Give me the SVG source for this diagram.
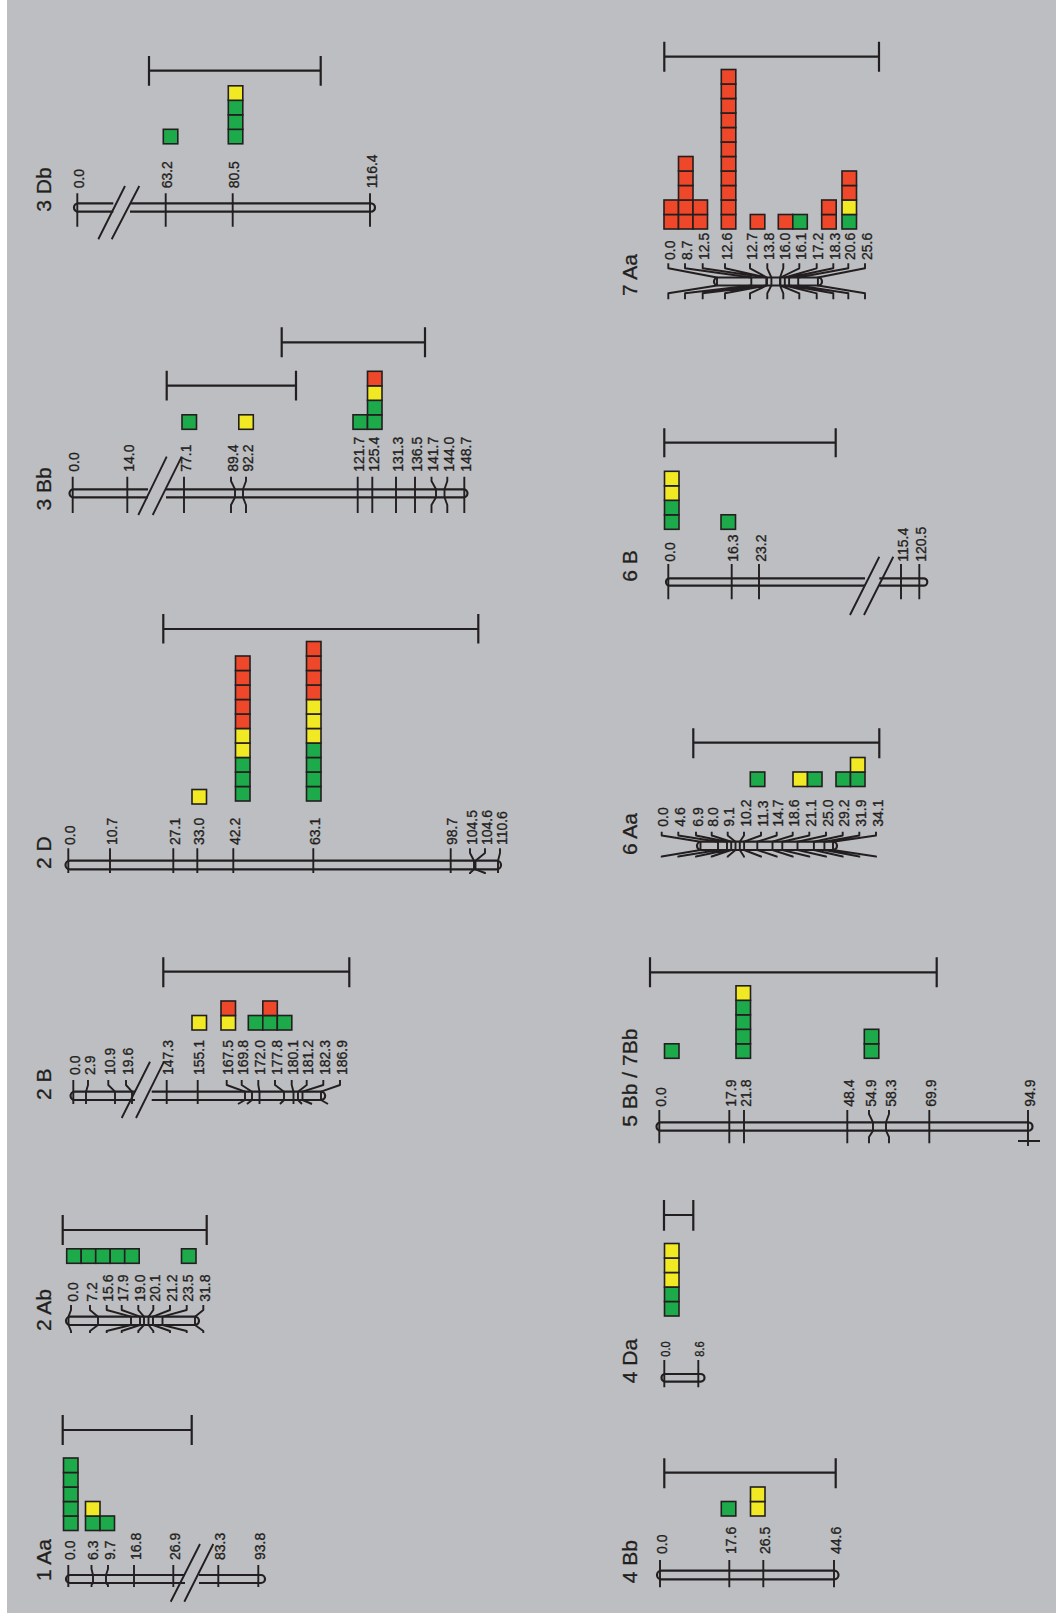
<svg xmlns="http://www.w3.org/2000/svg" width="1056" height="1613" viewBox="0 0 1056 1613">
<style>
.chr{fill:none;stroke:#231F20;stroke-width:2.2}
.tk{fill:none;stroke:#231F20;stroke-width:1.9;stroke-linejoin:round}
.bar{fill:none;stroke:#231F20;stroke-width:2.2}
.l{font-family:"Liberation Sans",Arial,sans-serif;font-size:15.5px;fill:#231F20;stroke:#231F20;stroke-width:0.35}
.s{font-size:13px}
.n{font-family:"Liberation Sans",Arial,sans-serif;font-size:21px;fill:#231F20;stroke:#231F20;stroke-width:0.3}
.g,.y,.r{stroke:#231F20;stroke-width:1.6}
.g{fill:#1DAA4A}.y{fill:#F1E923}.r{fill:#EE4729}
</style>
<rect x="0" y="0" width="1056" height="1613" fill="#FFFFFF"/>
<rect x="7" y="0" width="1049" height="1613" fill="#BDBEC1"/>

<g id="chr-1Aa">
<path class="chr" d="M185 1575H70A4 4 0 0 0 70 1583H185M199 1575H261A4 4 0 0 1 261 1583H199"/>
<path class="tk" d="M170.7 1601.7L200 1544M184.3 1601.7L213.3 1544"/>
<path class="tk" d="M68.3 1565V1587M91.5 1565V1569L93 1575V1583L91.5 1585V1587M108 1565V1569L106 1575V1583L108 1585V1587M134 1565V1587M173.3 1565V1587M218.3 1565V1587M258.3 1565V1587"/>
<text class="l" transform="translate(74.8,1560) rotate(-90) scale(0.9,1)">0.0</text>
<text class="l" transform="translate(98,1560) rotate(-90) scale(0.9,1)">6.3</text>
<text class="l" transform="translate(114.5,1560) rotate(-90) scale(0.9,1)">9.7</text>
<text class="l" transform="translate(140.5,1560) rotate(-90) scale(0.9,1)">16.8</text>
<text class="l" transform="translate(179.8,1560) rotate(-90) scale(0.9,1)">26.9</text>
<text class="l" transform="translate(224.8,1560) rotate(-90) scale(0.9,1)">83.3</text>
<text class="l" transform="translate(264.8,1560) rotate(-90) scale(0.9,1)">93.8</text>
<text class="n" transform="translate(51,1581) rotate(-90)">1 Aa</text>
<rect class="g" x="63.5" y="1516" width="14.5" height="14.5"/>
<rect class="g" x="63.5" y="1501.5" width="14.5" height="14.5"/>
<rect class="g" x="63.5" y="1487" width="14.5" height="14.5"/>
<rect class="g" x="63.5" y="1472.5" width="14.5" height="14.5"/>
<rect class="g" x="63.5" y="1458" width="14.5" height="14.5"/>
<rect class="g" x="85.5" y="1516" width="14.5" height="14.5"/>
<rect class="y" x="85.5" y="1501.5" width="14.5" height="14.5"/>
<rect class="g" x="100" y="1516" width="14.5" height="14.5"/>
<path class="bar" d="M62.7 1430H191.7M62.7 1415V1445M191.7 1415V1445"/>
</g>

<g id="chr-2Ab">
<rect class="chr" x="66" y="1316.7" width="133" height="8.3" rx="4.15"/>
<path class="tk" d="M71 1305V1310L68.5 1316.7V1325L71 1331V1333M90 1305V1310L98 1316.7V1325L90 1331V1333M106.7 1305V1310L131 1316.7V1325L106.7 1331V1333M121.7 1305V1310L140 1316.7V1325L121.7 1331V1333M138.3 1305V1310L144 1316.7V1325L138.3 1331V1333M153.3 1305V1310L148.5 1316.7V1325L153.3 1331V1333M170 1305V1310L153 1316.7V1325L170 1331V1333M186.7 1305V1310L162.5 1316.7V1325L186.7 1331V1333M203.3 1305V1310L195 1316.7V1325L203.3 1331V1333"/>
<text class="l" transform="translate(77.5,1301.7) rotate(-90) scale(0.9,1)">0.0</text>
<text class="l" transform="translate(96.5,1301.7) rotate(-90) scale(0.9,1)">7.2</text>
<text class="l" transform="translate(113.2,1301.7) rotate(-90) scale(0.9,1)">15.6</text>
<text class="l" transform="translate(128.2,1301.7) rotate(-90) scale(0.9,1)">17.9</text>
<text class="l" transform="translate(144.8,1301.7) rotate(-90) scale(0.9,1)">19.0</text>
<text class="l" transform="translate(159.8,1301.7) rotate(-90) scale(0.9,1)">20.1</text>
<text class="l" transform="translate(176.5,1301.7) rotate(-90) scale(0.9,1)">21.2</text>
<text class="l" transform="translate(193.2,1301.7) rotate(-90) scale(0.9,1)">23.5</text>
<text class="l" transform="translate(209.8,1301.7) rotate(-90) scale(0.9,1)">31.8</text>
<text class="n" transform="translate(51,1331) rotate(-90)">2 Ab</text>
<rect class="g" x="66.7" y="1248.8" width="14.5" height="14.5"/>
<rect class="g" x="81.2" y="1248.8" width="14.5" height="14.5"/>
<rect class="g" x="95.7" y="1248.8" width="14.5" height="14.5"/>
<rect class="g" x="110.2" y="1248.8" width="14.5" height="14.5"/>
<rect class="g" x="124.7" y="1248.8" width="14.5" height="14.5"/>
<rect class="g" x="181.5" y="1248.8" width="14.5" height="14.5"/>
<path class="bar" d="M62.7 1230H206.7M62.7 1215V1245M206.7 1215V1245"/>
</g>

<g id="chr-2B">
<path class="chr" d="M135 1091.7H74.7A4.15 4.15 0 0 0 74.7 1100H135M151.7 1091.7H321A4.15 4.15 0 0 1 321 1100H151.7"/>
<path class="tk" d="M121.7 1118L150 1061.7M136 1118L164 1061.7"/>
<path class="tk" d="M73.3 1080V1104M88 1080V1085L86 1091.7V1104M108.3 1080V1085L115 1091.7V1104M126 1080V1085L132 1091.7V1104M166.7 1080V1104M197.7 1080V1104M226.7 1080V1085L245 1091.7V1100L238 1104M241.7 1080V1085L252 1091.7V1100L247 1104M258.3 1080V1085L259.5 1091.7V1104M275 1080V1085L284 1091.7V1100L280 1104M291.7 1080V1085L293.5 1091.7V1104M306.7 1080V1085L298 1091.7V1100L302 1104M323.3 1080V1085L302.5 1091.7V1100L312 1104M340 1080V1085L321 1091.7V1100L328 1104"/>
<text class="l" transform="translate(79.8,1075) rotate(-90) scale(0.9,1)">0.0</text>
<text class="l" transform="translate(94.5,1075) rotate(-90) scale(0.9,1)">2.9</text>
<text class="l" transform="translate(114.8,1075) rotate(-90) scale(0.9,1)">10.9</text>
<text class="l" transform="translate(132.5,1075) rotate(-90) scale(0.9,1)">19.6</text>
<text class="l" transform="translate(173.2,1075) rotate(-90) scale(0.9,1)">147.3</text>
<text class="l" transform="translate(204.2,1075) rotate(-90) scale(0.9,1)">155.1</text>
<text class="l" transform="translate(233.2,1075) rotate(-90) scale(0.9,1)">167.5</text>
<text class="l" transform="translate(248.2,1075) rotate(-90) scale(0.9,1)">169.8</text>
<text class="l" transform="translate(264.8,1075) rotate(-90) scale(0.9,1)">172.0</text>
<text class="l" transform="translate(281.5,1075) rotate(-90) scale(0.9,1)">177.8</text>
<text class="l" transform="translate(298.2,1075) rotate(-90) scale(0.9,1)">180.1</text>
<text class="l" transform="translate(313.2,1075) rotate(-90) scale(0.9,1)">181.2</text>
<text class="l" transform="translate(329.8,1075) rotate(-90) scale(0.9,1)">182.3</text>
<text class="l" transform="translate(346.5,1075) rotate(-90) scale(0.9,1)">186.9</text>
<text class="n" transform="translate(51,1100) rotate(-90)">2 B</text>
<rect class="y" x="192" y="1015.5" width="14.5" height="14.5"/>
<rect class="y" x="221" y="1015.5" width="14.5" height="14.5"/>
<rect class="r" x="221" y="1001" width="14.5" height="14.5"/>
<rect class="g" x="248.3" y="1015.5" width="14.5" height="14.5"/>
<rect class="g" x="262.8" y="1015.5" width="14.5" height="14.5"/>
<rect class="g" x="277.3" y="1015.5" width="14.5" height="14.5"/>
<rect class="r" x="262.8" y="1001" width="14.5" height="14.5"/>
<path class="bar" d="M163.3 971.7H349.3M163.3 957.3V987.3M349.3 957.3V987.3"/>
</g>

<g id="chr-2D">
<rect class="chr" x="65.5" y="860.7" width="435.5" height="8.6" rx="4.3"/>
<path class="tk" d="M68.3 848.3V873M110 848.3V873M173.3 848.3V873M197.3 848.3V873M233.3 848.3V873M313.3 848.3V873M450.7 848.3V873M470 848.3V853L474 860.7V869.3L470 873V874M485 848.3V853L475.5 860.7V869.3L485 873V874M500 848.3V853L498 860.7V873"/>
<text class="l" transform="translate(74.8,845) rotate(-90) scale(0.9,1)">0.0</text>
<text class="l" transform="translate(116.5,845) rotate(-90) scale(0.9,1)">10.7</text>
<text class="l" transform="translate(179.8,845) rotate(-90) scale(0.9,1)">27.1</text>
<text class="l" transform="translate(203.8,845) rotate(-90) scale(0.9,1)">33.0</text>
<text class="l" transform="translate(239.8,845) rotate(-90) scale(0.9,1)">42.2</text>
<text class="l" transform="translate(319.8,845) rotate(-90) scale(0.9,1)">63.1</text>
<text class="l" transform="translate(457.2,845) rotate(-90) scale(0.9,1)">98.7</text>
<text class="l" transform="translate(476.5,845) rotate(-90) scale(0.9,1)">104.5</text>
<text class="l" transform="translate(491.5,845) rotate(-90) scale(0.9,1)">104.6</text>
<text class="l" transform="translate(506.5,845) rotate(-90) scale(0.9,1)">110.6</text>
<text class="n" transform="translate(51,869) rotate(-90)">2 D</text>
<rect class="y" x="192" y="789.5" width="14.5" height="14.5"/>
<rect class="g" x="235.5" y="786.5" width="14.5" height="14.5"/>
<rect class="g" x="235.5" y="772" width="14.5" height="14.5"/>
<rect class="g" x="235.5" y="757.5" width="14.5" height="14.5"/>
<rect class="y" x="235.5" y="743" width="14.5" height="14.5"/>
<rect class="y" x="235.5" y="728.5" width="14.5" height="14.5"/>
<rect class="r" x="235.5" y="714" width="14.5" height="14.5"/>
<rect class="r" x="235.5" y="699.5" width="14.5" height="14.5"/>
<rect class="r" x="235.5" y="685" width="14.5" height="14.5"/>
<rect class="r" x="235.5" y="670.5" width="14.5" height="14.5"/>
<rect class="r" x="235.5" y="656" width="14.5" height="14.5"/>
<rect class="g" x="306.5" y="786.5" width="14.5" height="14.5"/>
<rect class="g" x="306.5" y="772" width="14.5" height="14.5"/>
<rect class="g" x="306.5" y="757.5" width="14.5" height="14.5"/>
<rect class="g" x="306.5" y="743" width="14.5" height="14.5"/>
<rect class="y" x="306.5" y="728.5" width="14.5" height="14.5"/>
<rect class="y" x="306.5" y="714" width="14.5" height="14.5"/>
<rect class="y" x="306.5" y="699.5" width="14.5" height="14.5"/>
<rect class="r" x="306.5" y="685" width="14.5" height="14.5"/>
<rect class="r" x="306.5" y="670.5" width="14.5" height="14.5"/>
<rect class="r" x="306.5" y="656" width="14.5" height="14.5"/>
<rect class="r" x="306.5" y="641.5" width="14.5" height="14.5"/>
<path class="bar" d="M163.3 629H478.3M163.3 614V643.5M478.3 614V643.5"/>
</g>

<g id="chr-3Bb">
<path class="chr" d="M148 489.3H73.5A4 4 0 0 0 73.5 497.3H148M166 489.3H463.5A4 4 0 0 1 463.5 497.3H166"/>
<path class="tk" d="M138.3 515L166.7 456.7M152.7 515L181.7 456.7"/>
<path class="tk" d="M72.7 476.7V513M127.3 476.7V513M184 476.7V513M231 476.7V481L235 489.3V497.3L231 505V513M246 476.7V481L243 489.3V497.3L246 505V513M357.7 476.7V513M372.3 476.7V513M396 476.7V513M415 476.7V513M431.5 476.7V481L436 489.3V497.3L431.5 505V513M447.3 476.7V481L444.5 489.3V497.3L447.3 505V513M464.3 476.7V513"/>
<text class="l" transform="translate(79.2,471.7) rotate(-90) scale(0.9,1)">0.0</text>
<text class="l" transform="translate(133.8,471.7) rotate(-90) scale(0.9,1)">14.0</text>
<text class="l" transform="translate(190.5,471.7) rotate(-90) scale(0.9,1)">77.1</text>
<text class="l" transform="translate(237.5,471.7) rotate(-90) scale(0.9,1)">89.4</text>
<text class="l" transform="translate(252.5,471.7) rotate(-90) scale(0.9,1)">92.2</text>
<text class="l" transform="translate(364.2,471.7) rotate(-90) scale(0.9,1)">121.7</text>
<text class="l" transform="translate(378.8,471.7) rotate(-90) scale(0.9,1)">125.4</text>
<text class="l" transform="translate(402.5,471.7) rotate(-90) scale(0.9,1)">131.3</text>
<text class="l" transform="translate(421.5,471.7) rotate(-90) scale(0.9,1)">136.5</text>
<text class="l" transform="translate(438,471.7) rotate(-90) scale(0.9,1)">141.7</text>
<text class="l" transform="translate(453.8,471.7) rotate(-90) scale(0.9,1)">144.0</text>
<text class="l" transform="translate(470.8,471.7) rotate(-90) scale(0.9,1)">148.7</text>
<text class="n" transform="translate(51,510.5) rotate(-90)">3 Bb</text>
<rect class="g" x="182" y="414.8" width="14.5" height="14.5"/>
<rect class="y" x="238.8" y="414.8" width="14.5" height="14.5"/>
<rect class="g" x="353" y="414.8" width="14.5" height="14.5"/>
<rect class="g" x="367.5" y="414.8" width="14.5" height="14.5"/>
<rect class="g" x="367.5" y="400.3" width="14.5" height="14.5"/>
<rect class="y" x="367.5" y="385.8" width="14.5" height="14.5"/>
<rect class="r" x="367.5" y="371.3" width="14.5" height="14.5"/>
<path class="bar" d="M166.7 385.7H296M166.7 370.7V400.5M296 370.7V400.5"/>
<path class="bar" d="M281.7 342.3H425M281.7 327.3V357.3M425 327.3V357.3"/>
</g>

<g id="chr-3Db">
<path class="chr" d="M113.3 203.3H78.2A4.2 4.2 0 0 0 78.2 211.7H113.3M130 203.3H370.8A4.2 4.2 0 0 1 370.8 211.7H130"/>
<path class="tk" d="M98.3 239.3L125 186M111.7 239.3L139.3 186"/>
<path class="tk" d="M77.3 193.3V226.7M165.7 193.3V226.7M232.7 193.3V226.7M370 193.3V226.7"/>
<text class="l" transform="translate(83.8,188.3) rotate(-90) scale(0.9,1)">0.0</text>
<text class="l" transform="translate(172.2,188.3) rotate(-90) scale(0.9,1)">63.2</text>
<text class="l" transform="translate(239.2,188.3) rotate(-90) scale(0.9,1)">80.5</text>
<text class="l" transform="translate(376.5,188.3) rotate(-90) scale(0.9,1)">116.4</text>
<text class="n" transform="translate(51,211.7) rotate(-90)">3 Db</text>
<rect class="g" x="163.3" y="129.3" width="14.5" height="14.5"/>
<rect class="g" x="228.3" y="129.3" width="14.5" height="14.5"/>
<rect class="g" x="228.3" y="114.8" width="14.5" height="14.5"/>
<rect class="g" x="228.3" y="100.3" width="14.5" height="14.5"/>
<rect class="y" x="228.3" y="85.8" width="14.5" height="14.5"/>
<path class="bar" d="M149 70.7H320.7M149 56V85.7M320.7 56V85.7"/>
</g>

<g id="chr-4Bb">
<rect class="chr" x="657" y="1570.7" width="181.5" height="8.6" rx="4.3"/>
<path class="tk" d="M660 1560V1587.3M729.3 1560V1587.3M763.3 1560V1587.3M834 1560V1587.3"/>
<text class="l" transform="translate(666.5,1554) rotate(-90) scale(0.9,1)">0.0</text>
<text class="l" transform="translate(735.8,1554) rotate(-90) scale(0.9,1)">17.6</text>
<text class="l" transform="translate(769.8,1554) rotate(-90) scale(0.9,1)">26.5</text>
<text class="l" transform="translate(840.5,1554) rotate(-90) scale(0.9,1)">44.6</text>
<text class="n" transform="translate(637,1583.3) rotate(-90)">4 Bb</text>
<rect class="g" x="721.3" y="1501.5" width="14.5" height="14.5"/>
<rect class="y" x="750.5" y="1501.5" width="14.5" height="14.5"/>
<rect class="y" x="750.5" y="1487" width="14.5" height="14.5"/>
<path class="bar" d="M664.3 1472.7H835.7M664.3 1458.3V1488.3M835.7 1458.3V1488.3"/>
</g>

<g id="chr-4Da">
<rect class="chr" x="661.5" y="1374" width="43" height="7.7" rx="3.85"/>
<path class="tk" d="M664.3 1360V1387.3M698.3 1360V1387.3"/>
<text class="l s" transform="translate(670,1356.7) rotate(-90) scale(0.85,1)">0.0</text>
<text class="l s" transform="translate(704,1356.7) rotate(-90) scale(0.85,1)">8.6</text>
<text class="n" transform="translate(637,1383.3) rotate(-90)">4 Da</text>
<rect class="g" x="664.5" y="1301.5" width="14.5" height="14.5"/>
<rect class="g" x="664.5" y="1287" width="14.5" height="14.5"/>
<rect class="y" x="664.5" y="1272.5" width="14.5" height="14.5"/>
<rect class="y" x="664.5" y="1258" width="14.5" height="14.5"/>
<rect class="y" x="664.5" y="1243.5" width="14.5" height="14.5"/>
<path class="bar" d="M664 1215H693.3M664 1200V1230.7M693.3 1200V1230.7"/>
</g>

<g id="chr-5Bb-7Bb">
<rect class="chr" x="656.5" y="1122.3" width="376" height="8.4" rx="4.2"/>
<path class="tk" d="M659.3 1110V1143.3M729.3 1110V1143.3M744 1110V1143.3M847.3 1110V1143.3M869 1110V1114L873 1122.3V1130.7L869 1137V1143.3M889 1110V1114L886 1122.3V1130.7L889 1137V1143.3M929.3 1110V1143.3M1028 1110V1146M1018 1141H1040"/>
<text class="l" transform="translate(665.8,1106.7) rotate(-90) scale(0.9,1)">0.0</text>
<text class="l" transform="translate(735.8,1106.7) rotate(-90) scale(0.9,1)">17.9</text>
<text class="l" transform="translate(750.5,1106.7) rotate(-90) scale(0.9,1)">21.8</text>
<text class="l" transform="translate(853.8,1106.7) rotate(-90) scale(0.9,1)">48.4</text>
<text class="l" transform="translate(875.5,1106.7) rotate(-90) scale(0.9,1)">54.9</text>
<text class="l" transform="translate(895.5,1106.7) rotate(-90) scale(0.9,1)">58.3</text>
<text class="l" transform="translate(935.8,1106.7) rotate(-90) scale(0.9,1)">69.9</text>
<text class="l" transform="translate(1034.5,1106.7) rotate(-90) scale(0.9,1)">94.9</text>
<text class="n" transform="translate(637,1126.7) rotate(-90)">5 Bb / 7Bb</text>
<rect class="g" x="664.5" y="1043.8" width="14.5" height="14.5"/>
<rect class="g" x="736" y="1043.8" width="14.5" height="14.5"/>
<rect class="g" x="736" y="1029.3" width="14.5" height="14.5"/>
<rect class="g" x="736" y="1014.8" width="14.5" height="14.5"/>
<rect class="g" x="736" y="1000.3" width="14.5" height="14.5"/>
<rect class="y" x="736" y="985.8" width="14.5" height="14.5"/>
<rect class="g" x="864.3" y="1043.8" width="14.5" height="14.5"/>
<rect class="g" x="864.3" y="1029.3" width="14.5" height="14.5"/>
<path class="bar" d="M650 972.3H936.7M650 957.3V987.3M936.7 957.3V987.3"/>
</g>

<g id="chr-6Aa">
<rect class="chr" x="697" y="841.7" width="140" height="8.3" rx="4.15"/>
<path class="tk" d="M661.7 831.7V835.5L700.5 841.7V850L661.7 856.5V857.5M678.3 831.7V835.5L718 841.7V850L678.3 856.5V857.5M696 831.7V835.5L727 841.7V850L696 856.5V857.5M711.7 831.7V835.5L731.2 841.7V850L711.7 856.5V857.5M727.7 831.7V835.5L735.5 841.7V850L727.7 856.5V857.5M744 831.7V835.5L739.8 841.7V850L744 856.5V857.5M761 831.7V835.5L744.1 841.7V850L761 856.5V857.5M776.7 831.7V835.5L757.3 841.7V850L776.7 856.5V857.5M792.7 831.7V835.5L772.5 841.7V850L792.7 856.5V857.5M809.3 831.7V835.5L782.3 841.7V850L809.3 856.5V857.5M826 831.7V835.5L797.5 841.7V850L826 856.5V857.5M842.7 831.7V835.5L813.9 841.7V850L842.7 856.5V857.5M859.3 831.7V835.5L824.4 841.7V850L859.3 856.5V857.5M876 831.7V835.5L833 841.7V850L876 856.5V857.5"/>
<text class="l" transform="translate(668.2,826.7) rotate(-90) scale(0.9,1)">0.0</text>
<text class="l" transform="translate(684.8,826.7) rotate(-90) scale(0.9,1)">4.6</text>
<text class="l" transform="translate(702.5,826.7) rotate(-90) scale(0.9,1)">6.9</text>
<text class="l" transform="translate(718.2,826.7) rotate(-90) scale(0.9,1)">8.0</text>
<text class="l" transform="translate(734.2,826.7) rotate(-90) scale(0.9,1)">9.1</text>
<text class="l" transform="translate(750.5,826.7) rotate(-90) scale(0.9,1)">10.2</text>
<text class="l" transform="translate(767.5,826.7) rotate(-90) scale(0.9,1)">11.3</text>
<text class="l" transform="translate(783.2,826.7) rotate(-90) scale(0.9,1)">14.7</text>
<text class="l" transform="translate(799.2,826.7) rotate(-90) scale(0.9,1)">18.6</text>
<text class="l" transform="translate(815.8,826.7) rotate(-90) scale(0.9,1)">21.1</text>
<text class="l" transform="translate(832.5,826.7) rotate(-90) scale(0.9,1)">25.0</text>
<text class="l" transform="translate(849.2,826.7) rotate(-90) scale(0.9,1)">29.2</text>
<text class="l" transform="translate(865.8,826.7) rotate(-90) scale(0.9,1)">31.9</text>
<text class="l" transform="translate(882.5,826.7) rotate(-90) scale(0.9,1)">34.1</text>
<text class="n" transform="translate(637,855) rotate(-90)">6 Aa</text>
<rect class="g" x="750.3" y="772" width="14.5" height="14.5"/>
<rect class="y" x="793" y="772" width="14.5" height="14.5"/>
<rect class="g" x="807.5" y="772" width="14.5" height="14.5"/>
<rect class="g" x="836" y="772" width="14.5" height="14.5"/>
<rect class="g" x="850.5" y="772" width="14.5" height="14.5"/>
<rect class="y" x="850.5" y="757.5" width="14.5" height="14.5"/>
<path class="bar" d="M693.3 742.7H879.3M693.3 728.3V758.3M879.3 728.3V758.3"/>
</g>

<g id="chr-6B">
<path class="chr" d="M865 578.3H669.7A3.7 3.7 0 0 0 669.7 585.7H865M879.3 578.3H923.6A3.7 3.7 0 0 1 923.6 585.7H879.3"/>
<path class="tk" d="M850 615L879.3 556.7M864 615L893.3 556.7"/>
<path class="tk" d="M668.3 564V599.3M731.7 564V599.3M759 564V599.3M901 564V599.3M919.3 564V599.3"/>
<text class="l" transform="translate(674.8,561.7) rotate(-90) scale(0.9,1)">0.0</text>
<text class="l" transform="translate(738.2,561.7) rotate(-90) scale(0.9,1)">16.3</text>
<text class="l" transform="translate(765.5,561.7) rotate(-90) scale(0.9,1)">23.2</text>
<text class="l" transform="translate(907.5,561.7) rotate(-90) scale(0.9,1)">115.4</text>
<text class="l" transform="translate(925.8,561.7) rotate(-90) scale(0.9,1)">120.5</text>
<text class="n" transform="translate(637,581.7) rotate(-90)">6 B</text>
<rect class="g" x="664.5" y="514.8" width="14.5" height="14.5"/>
<rect class="g" x="664.5" y="500.3" width="14.5" height="14.5"/>
<rect class="y" x="664.5" y="485.8" width="14.5" height="14.5"/>
<rect class="y" x="664.5" y="471.3" width="14.5" height="14.5"/>
<rect class="g" x="721" y="514.8" width="14.5" height="14.5"/>
<path class="bar" d="M664.3 442.7H835.7M664.3 428.3V457.3M835.7 428.3V457.3"/>
</g>

<g id="chr-7Aa">
<rect class="chr" x="714" y="277.5" width="108" height="8" rx="4"/>
<path class="tk" d="M668.3 263.3V268.3L717 277.5V285.5L668.3 293.3V299.3M685 263.3V268.3L751.3 277.5V285.5L685 293.3V299.3M702.7 263.3V268.3L766.3 277.5V285.5L702.7 293.3V299.3M725 263.3V268.3L766.6 277.5V285.5L725 293.3V299.3M750 263.3V268.3L767 277.5V285.5L750 293.3V299.3M767.3 263.3V268.3L771.4 277.5V285.5L767.3 293.3V299.3M783.3 263.3V268.3L780 277.5V285.5L783.3 293.3V299.3M799.3 263.3V268.3L780.4 277.5V285.5L799.3 293.3V299.3M816.7 263.3V268.3L784.8 277.5V285.5L816.7 293.3V299.3M833.3 263.3V268.3L789.1 277.5V285.5L833.3 293.3V299.3M848.3 263.3V268.3L798.2 277.5V285.5L848.3 293.3V299.3M865 263.3V268.3L817.9 277.5V285.5L865 293.3V299.3"/>
<text class="l" transform="translate(674.8,260) rotate(-90) scale(0.9,1)">0.0</text>
<text class="l" transform="translate(691.5,260) rotate(-90) scale(0.9,1)">8.7</text>
<text class="l" transform="translate(709.2,260) rotate(-90) scale(0.9,1)">12.5</text>
<text class="l" transform="translate(731.5,260) rotate(-90) scale(0.9,1)">12.6</text>
<text class="l" transform="translate(756.5,260) rotate(-90) scale(0.9,1)">12.7</text>
<text class="l" transform="translate(773.8,260) rotate(-90) scale(0.9,1)">13.8</text>
<text class="l" transform="translate(789.8,260) rotate(-90) scale(0.9,1)">16.0</text>
<text class="l" transform="translate(805.8,260) rotate(-90) scale(0.9,1)">16.1</text>
<text class="l" transform="translate(823.2,260) rotate(-90) scale(0.9,1)">17.2</text>
<text class="l" transform="translate(839.8,260) rotate(-90) scale(0.9,1)">18.3</text>
<text class="l" transform="translate(854.8,260) rotate(-90) scale(0.9,1)">20.6</text>
<text class="l" transform="translate(871.5,260) rotate(-90) scale(0.9,1)">25.6</text>
<text class="n" transform="translate(637,296) rotate(-90)">7 Aa</text>
<rect class="r" x="664" y="214.5" width="14.5" height="14.5"/>
<rect class="r" x="664" y="200" width="14.5" height="14.5"/>
<rect class="r" x="678.5" y="214.5" width="14.5" height="14.5"/>
<rect class="r" x="678.5" y="200" width="14.5" height="14.5"/>
<rect class="r" x="678.5" y="185.5" width="14.5" height="14.5"/>
<rect class="r" x="678.5" y="171" width="14.5" height="14.5"/>
<rect class="r" x="678.5" y="156.5" width="14.5" height="14.5"/>
<rect class="r" x="693" y="214.5" width="14.5" height="14.5"/>
<rect class="r" x="693" y="200" width="14.5" height="14.5"/>
<rect class="r" x="721.3" y="214.5" width="14.5" height="14.5"/>
<rect class="r" x="721.3" y="200" width="14.5" height="14.5"/>
<rect class="r" x="721.3" y="185.5" width="14.5" height="14.5"/>
<rect class="r" x="721.3" y="171" width="14.5" height="14.5"/>
<rect class="r" x="721.3" y="156.5" width="14.5" height="14.5"/>
<rect class="r" x="721.3" y="142" width="14.5" height="14.5"/>
<rect class="r" x="721.3" y="127.5" width="14.5" height="14.5"/>
<rect class="r" x="721.3" y="113" width="14.5" height="14.5"/>
<rect class="r" x="721.3" y="98.5" width="14.5" height="14.5"/>
<rect class="r" x="721.3" y="84" width="14.5" height="14.5"/>
<rect class="r" x="721.3" y="69.5" width="14.5" height="14.5"/>
<rect class="r" x="750.3" y="214.5" width="14.5" height="14.5"/>
<rect class="r" x="778.3" y="214.5" width="14.5" height="14.5"/>
<rect class="g" x="792.8" y="214.5" width="14.5" height="14.5"/>
<rect class="r" x="821.7" y="214.5" width="14.5" height="14.5"/>
<rect class="r" x="821.7" y="200" width="14.5" height="14.5"/>
<rect class="g" x="842" y="214.5" width="14.5" height="14.5"/>
<rect class="y" x="842" y="200" width="14.5" height="14.5"/>
<rect class="r" x="842" y="185.5" width="14.5" height="14.5"/>
<rect class="r" x="842" y="171" width="14.5" height="14.5"/>
<path class="bar" d="M664.3 56.7H879M664.3 41.7V71.7M879 41.7V71.7"/>
</g>
</svg>
